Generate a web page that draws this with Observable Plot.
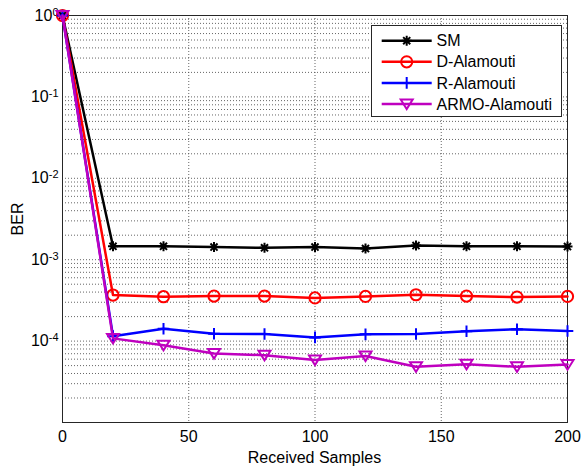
<!DOCTYPE html>
<html>
<head>
<meta charset="utf-8">
<script src="https://cdn.jsdelivr.net/npm/d3@7"></script>
<script src="https://cdn.jsdelivr.net/npm/@observablehq/plot@0.6"></script>
<style>
  html, body { margin: 0; padding: 0; background: #fff; }
  svg { display: block; }
</style>
</head>
<body>
<div id="chart"></div>
<script>
// ---- data ----
const samples = [0, 20, 40, 60, 80, 100, 120, 140, 160, 180, 200];
const berSM   = [1, 1.46e-3, 1.46e-3, 1.43e-3, 1.40e-3, 1.43e-3, 1.37e-3, 1.49e-3, 1.46e-3, 1.46e-3, 1.45e-3];
const berD    = [1, 3.68e-4, 3.51e-4, 3.57e-4, 3.57e-4, 3.39e-4, 3.54e-4, 3.71e-4, 3.57e-4, 3.47e-4, 3.54e-4];
const berR    = [1, 1.15e-4, 1.42e-4, 1.23e-4, 1.22e-4, 1.11e-4, 1.21e-4, 1.22e-4, 1.32e-4, 1.40e-4, 1.33e-4];
const berARMO = [1, 1.08e-4, 8.9e-5, 7.06e-5, 6.7e-5, 5.85e-5, 6.55e-5, 4.83e-5, 5.2e-5, 4.83e-5, 5.15e-5];
const seriesNames = ["SM", "D-Alamouti", "R-Alamouti", "ARMO-Alamouti"];
const seriesColors = ["#000000", "#FF0000", "#0000FF", "#BF00BF"];
const xTicks = [0, 50, 100, 150, 200];
const xGrid = [50, 100, 150];
const yTicks = [1, 0.1, 0.01, 0.001, 0.0001];
const yTickExp = ["0", "-1", "-2", "-3", "-4"];
const xLabel = "Received Samples";
const yLabel = "BER";

// ---- marker shapes ----
const asterisk8 = { draw(ctx, size) {
  const r = Math.sqrt(size / Math.PI), s = r * Math.SQRT1_2;
  ctx.moveTo(-r, 0); ctx.lineTo(r, 0);
  ctx.moveTo(0, -r); ctx.lineTo(0, r);
  ctx.moveTo(-s, -s); ctx.lineTo(s, s);
  ctx.moveTo(-s, s); ctx.lineTo(s, -s);
}};
const plusSym = { draw(ctx, size) {
  const r = Math.sqrt(size / Math.PI);
  ctx.moveTo(-r, 0); ctx.lineTo(r, 0);
  ctx.moveTo(0, -r); ctx.lineTo(0, r);
}};
const circleSym = { draw(ctx, size) {
  const r = Math.sqrt(size / Math.PI);
  ctx.moveTo(r, 0); ctx.arc(0, 0, r, 0, 2 * Math.PI);
}};
const triDown = { draw(ctx, size) {
  const r = Math.sqrt(size / Math.PI);
  ctx.moveTo(-r, -0.75 * r); ctx.lineTo(r, -0.75 * r); ctx.lineTo(0, 0.85 * r); ctx.closePath();
}};
const symbols = [asterisk8, circleSym, plusSym, triDown];
const radii = [5, 5.6, 5.8, 6];

const seriesValues = [berSM, berD, berR, berARMO];
const rows = [];
seriesNames.forEach((name, k) => {
  samples.forEach((s, i) => rows.push({series: name, x: s, y: seriesValues[k][i]}));
});

const minorY = d3.scaleLog().domain([1e-5, 1]).ticks();

const marks = [
  Plot.gridY(minorY, {stroke: "#555", strokeOpacity: 0.9, strokeDasharray: "1,2", strokeWidth: 1}),
  Plot.gridX(xGrid, {stroke: "#555", strokeOpacity: 0.9, strokeDasharray: "1,2", strokeWidth: 1}),
  Plot.axisX(xTicks, {tickSize: 0, tickPadding: 8, fontSize: 16, label: null}),
  Plot.axisY(yTicks, {tickSize: 0, tickPadding: 4, fontSize: 16, label: null,
    tickFormat: d => "10^" + yTickExp[yTicks.indexOf(d)]}),
  Plot.frame({stroke: "#262626", strokeWidth: 1})
];
seriesNames.forEach((name, k) => {
  const data = rows.filter(d => d.series === name);
  marks.push(Plot.line(data, {x: "x", y: "y", stroke: seriesColors[k], strokeWidth: 2.5}));
  marks.push(Plot.dot(data, {x: "x", y: "y", stroke: seriesColors[k], fill: "none",
    strokeWidth: 2, symbol: symbols[k], r: radii[k]}));
});

const svg = Plot.plot({
  width: 581, height: 469,
  marginLeft: 62, marginRight: 14, marginTop: 15, marginBottom: 47,
  style: {fontFamily: "'Liberation Sans', Arial, sans-serif", fontSize: "16px", background: "#fff", color: "#000", overflow: "visible"},
  x: {domain: [0, 200]},
  y: {type: "log", domain: [1e-5, 1]},
  marks
});

// superscripts on y tick labels
d3.select(svg).selectAll('g[aria-label="y-axis tick label"] text').each(function() {
  const t = d3.select(this);
  const parts = t.text().split("^");
  t.text(parts[0]);
  t.append("tspan").attr("dy", "-0.45em").attr("font-size", "11px").text(parts[1]);
});

const sel = d3.select(svg);
// axis titles
sel.append("text").attr("x", 314.5).attr("y", 463).attr("text-anchor", "middle")
  .attr("font-size", 16).attr("fill", "#000").text(xLabel);
sel.append("text").attr("transform", "translate(22.5,219) rotate(-90)").attr("text-anchor", "middle")
  .attr("font-size", 16).attr("fill", "#000").text(yLabel);

// legend
const lg = sel.append("g");
lg.append("rect").attr("x", 371.5).attr("y", 25.5).attr("width", 190).attr("height", 91)
  .attr("fill", "#fff").attr("stroke", "#262626").attr("stroke-width", 1);
seriesNames.forEach((name, k) => {
  const cy = 40.7 + k * 21.1;
  lg.append("line").attr("x1", 381.7).attr("x2", 431.7).attr("y1", cy).attr("y2", cy)
    .attr("stroke", seriesColors[k]).attr("stroke-width", 2.5);
  lg.append("path").attr("transform", `translate(406.7,${cy})`)
    .attr("d", d3.symbol().type(symbols[k]).size(Math.PI * radii[k] * radii[k])())
    .attr("fill", "none").attr("stroke", seriesColors[k]).attr("stroke-width", 2);
  lg.append("text").attr("x", 436.5).attr("y", cy).attr("dy", "0.35em")
    .attr("text-anchor", "start")
    .attr("font-size", 16).attr("fill", "#000").text(name);
});

document.getElementById("chart").appendChild(svg);
</script>
</body>
</html>
